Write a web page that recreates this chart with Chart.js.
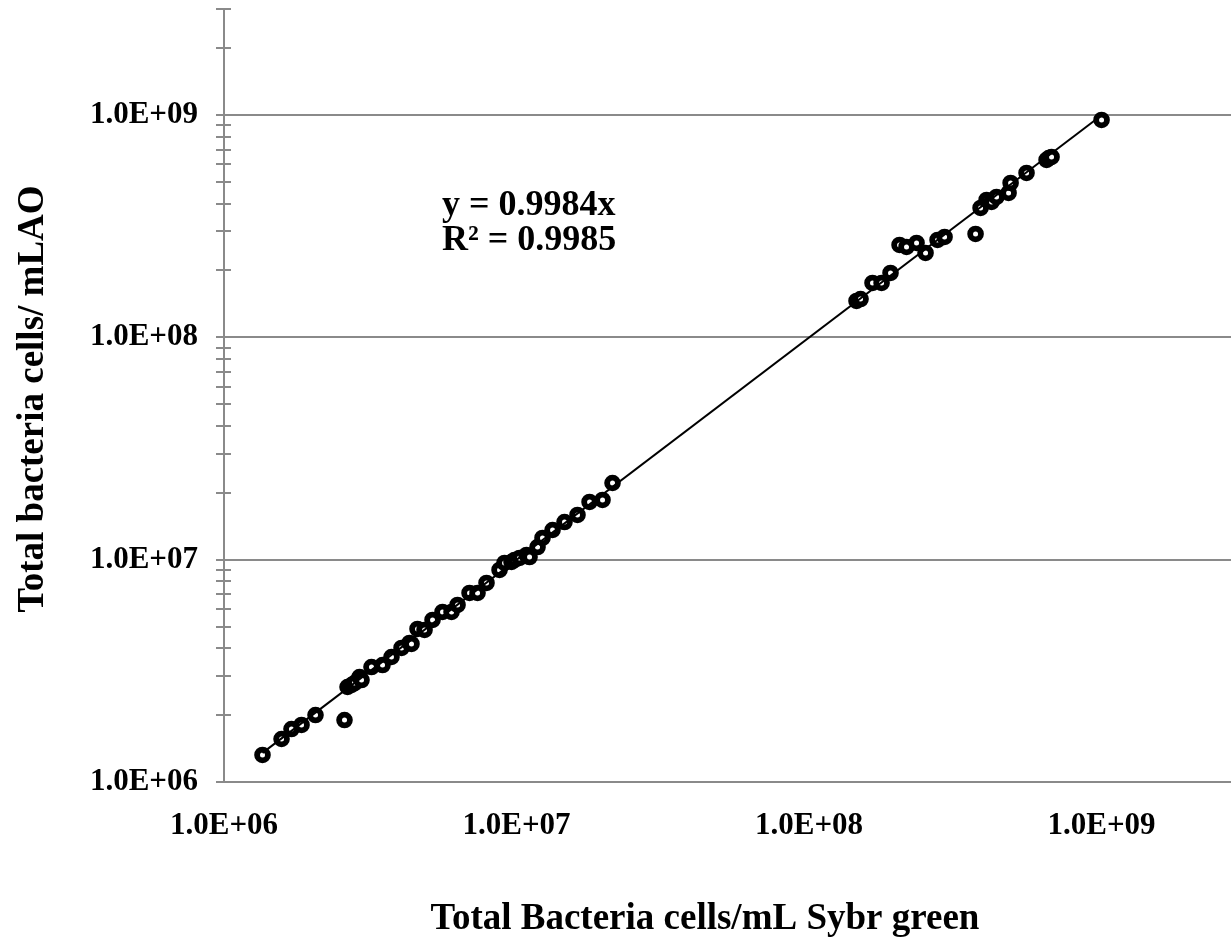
<!DOCTYPE html>
<html><head><meta charset="utf-8">
<script src="https://cdn.jsdelivr.net/npm/chart.js@4/dist/chart.umd.min.js"></script>
<style>html,body{margin:0;padding:0;background:#fff;overflow:hidden}canvas{display:block}</style>
</head><body>
<canvas id="c" width="1231" height="948"></canvas>
<script>
// ---- data ----
const sybrGreen = [
  1.354e6, 1.573e6, 1.701e6, 1.841e6, 2.055e6, 2.582e6, 2.644e6, 2.729e6, 2.794e6, 2.906e6,
  2.952e6, 3.193e6, 3.483e6, 3.737e6, 4.045e6, 4.307e6, 4.375e6, 4.587e6, 4.848e6, 5.163e6,
  5.585e6, 5.996e6, 6.286e6, 6.909e6, 7.357e6, 7.896e6, 8.749e6, 9.100e6, 9.614e6, 9.844e6,
  1.024e7, 1.082e7, 1.108e7, 1.180e7, 1.227e7, 1.328e7, 1.459e7, 1.616e7, 1.777e7, 1.968e7,
  2.129e7,
  1.453e8, 1.500e8, 1.648e8, 1.770e8, 1.899e8, 2.039e8, 2.154e8, 2.331e8, 2.502e8, 2.750e8,
  2.906e8, 3.709e8, 3.858e8, 4.045e8, 4.207e8, 4.375e8, 4.810e8, 4.887e8, 5.540e8, 6.486e8,
  6.600e8, 6.746e8, 1.000e9
];
const laoCounts = [
  1.323e6, 1.561e6, 1.731e6, 1.805e6, 2.001e6, 1.900e6, 2.675e6, 2.731e6, 2.788e6, 2.967e6,
  2.876e6, 3.290e6, 3.359e6, 3.650e6, 4.007e6, 4.221e6, 4.177e6, 4.880e6, 4.830e6, 5.355e6,
  5.818e6, 5.818e6, 6.255e6, 7.085e6, 7.085e6, 7.857e6, 8.989e6, 9.665e6, 9.766e6, 9.970e6,
  1.018e7, 1.050e7, 1.028e7, 1.140e7, 1.252e7, 1.360e7, 1.477e7, 1.589e7, 1.818e7, 1.857e7,
  2.213e7,
  1.458e8, 1.488e8, 1.757e8, 1.757e8, 1.949e8, 2.604e8, 2.551e8, 2.659e8, 2.398e8, 2.743e8,
  2.829e8, 2.918e8, 3.820e8, 4.150e8, 4.065e8, 4.281e8, 4.462e8, 4.949e8, 5.489e8, 6.281e8,
  6.400e8, 6.479e8, 9.506e8
];
const trendSlope = 0.9984;
const rSquared = 0.9985;
const xTickValues = [1e6, 1e7, 1e8, 1e9];
const yTickValues = [1e6, 1e7, 1e8, 1e9];
const xAxisMin = 1e6, xAxisMax = 2.77e9;
const yAxisMin = 1e6, yAxisMax = 3e9;
const xTitle = 'Total Bacteria cells/mL Sybr green';
const yTitle = 'Total bacteria cells/ mLAO';
const eqLine1 = 'y = ' + trendSlope + 'x';
const eqLine2 = 'R\u00B2 = ' + rSquared;

// ---- helpers ----
const GRAY = '#8a8a8a';
const FONT = '"Liberation Serif", "Times New Roman", serif';
const fmtSci = v => {
  const e = Math.round(Math.log10(v));
  const m = v / Math.pow(10, e);
  return m.toFixed(1) + 'E+' + String(e).padStart(2, '0');
};
// minor/major tick marks on the value axis (1..9 x each decade up to the axis max)
const yCrossTicks = [];
yTickValues.forEach(d => { for (let k = 1; k <= 9; k++) { const v = k * d; if (v <= yAxisMax * 1.0001) yCrossTicks.push(v); } });

const points = sybrGreen.map((x, i) => ({ x: x, y: laoCounts[i] }));
const xLo = Math.min(...sybrGreen), xHi = Math.max(...sybrGreen);
const trend = [{ x: xLo, y: trendSlope * xLo }, { x: xHi, y: trendSlope * xHi }];

const decor = {
  id: 'decor',
  beforeDatasetsDraw(chart) {
    const { ctx, chartArea, scales } = chart;
    ctx.save();
    ctx.strokeStyle = GRAY; ctx.lineWidth = 2;
    yCrossTicks.forEach(v => {
      const py = Math.round(scales.y.getPixelForValue(v));
      ctx.beginPath(); ctx.moveTo(chartArea.left - 8, py); ctx.lineTo(chartArea.left + 7, py); ctx.stroke();
    });
    ctx.restore();
  },
  afterDraw(chart) {
    const { ctx } = chart;
    ctx.save();
    ctx.fillStyle = '#000';
    ctx.textBaseline = 'alphabetic';
    ctx.font = 'bold 36px ' + FONT;
    ctx.textAlign = 'left';
    ctx.fillText(eqLine1, 442, 215);
    ctx.fillText(eqLine2, 442, 250);
    ctx.font = 'bold 37px ' + FONT;
    ctx.textAlign = 'center';
    ctx.fillText(xTitle, 705, 929);
    ctx.translate(43, 399);
    ctx.rotate(-Math.PI / 2);
    ctx.fillText(yTitle, 0, 0);
    ctx.restore();
  }
};

new Chart(document.getElementById('c'), {
  type: 'scatter',
  data: {
    datasets: [
      { type: 'line', data: trend, borderColor: '#000', borderWidth: 2, pointRadius: 0, fill: false, order: 0 },
      { data: points, pointRadius: 5.4, pointHoverRadius: 5.4, pointBorderWidth: 5.8, borderColor: '#000',
        pointBorderColor: '#000', pointBackgroundColor: '#fff', backgroundColor: '#fff', order: 1 }
    ]
  },
  options: {
    responsive: false, animation: false, events: [],
    layout: { autoPadding: false, padding: { top: 9, left: 0, right: 0, bottom: 0 } },
    plugins: { legend: { display: false }, tooltip: { enabled: false } },
    scales: {
      x: {
        type: 'logarithmic', min: xAxisMin, max: xAxisMax,
        afterBuildTicks: s => { s.ticks = xTickValues.map(v => ({ value: v })); },
        afterFit: s => { s.height = 166; s.paddingLeft = 0; s.paddingRight = 0; },
        grid: { display: false, drawTicks: false },
        border: { display: true, color: GRAY, width: 2 },
        ticks: { callback: v => fmtSci(v), padding: 25, maxRotation: 0, autoSkip: false,
                 color: '#000', font: { family: FONT, size: 31, weight: 'bold' } }
      },
      y: {
        type: 'logarithmic', min: yAxisMin, max: yAxisMax,
        afterBuildTicks: s => { s.ticks = yTickValues.map(v => ({ value: v })); },
        afterFit: s => { s.width = 224; s.paddingTop = 0; s.paddingBottom = 0; },
        grid: { display: true, drawTicks: false, color: GRAY, lineWidth: 2 },
        border: { display: true, color: GRAY, width: 2 },
        ticks: { callback: v => fmtSci(v), padding: 26, autoSkip: false,
                 color: '#000', font: { family: FONT, size: 31, weight: 'bold' } }
      }
    }
  },
  plugins: [decor]
});
</script>
</body></html>
